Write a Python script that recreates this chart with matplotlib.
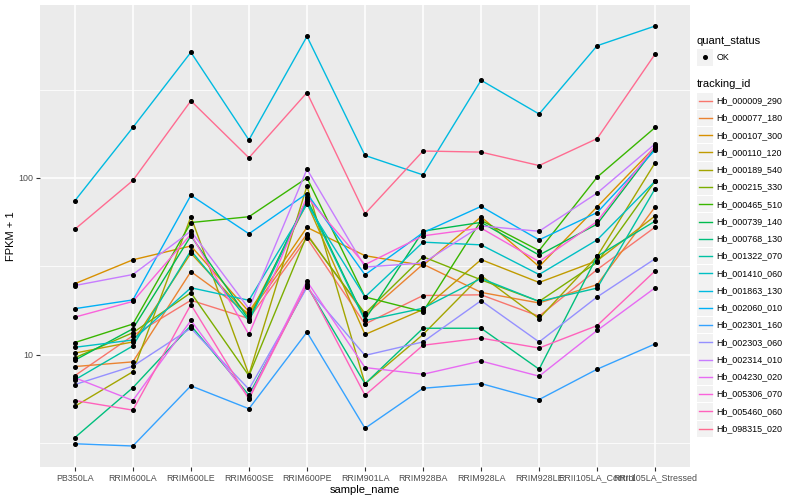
import numpy as np
import matplotlib.pyplot as plt
from matplotlib.lines import Line2D
from matplotlib.patches import Rectangle

plt.rcParams['font.family'] = ['Liberation Sans', 'DejaVu Sans']

samples = ["PB350LA", "RRIM600LA", "RRIM600LE", "RRIM600SE", "RRIM600PE",
           "RRIM901LA", "RRIM928BA", "RRIM928LA", "RRIM928LE",
           "RRII105LA_Control", "RRII105LA_Stressed"]

tracking_ids = ["Hb_000009_290", "Hb_000077_180", "Hb_000107_300", "Hb_000110_120",
                "Hb_000189_540", "Hb_000215_330", "Hb_000465_510", "Hb_000739_140",
                "Hb_000768_130", "Hb_001322_070", "Hb_001410_060", "Hb_001863_130",
                "Hb_002060_010", "Hb_002301_160", "Hb_002303_060", "Hb_002314_010",
                "Hb_004230_020", "Hb_005306_070", "Hb_005460_060", "Hb_098315_020"]

# FPKM + 1 per sample, one list per gene
hb_000009_290 = [7.6, 12.8, 20.3, 16.0, 45.6, 14.9, 21.6, 21.8, 16.5, 30.3, 52.7]
hb_000077_180 = [8.56, 9.1, 29.5, 17.0, 48.1, 16.7, 32.5, 22.5, 19.6, 24.9, 68.6]
hb_000107_300 = [25.2, 34.4, 41.2, 17.5, 52.5, 36.3, 32.0, 60.2, 31.5, 68.6, 150]
hb_000110_120 = [10.2, 11.8, 37.5, 16.5, 72, 13.0, 18.0, 34.5, 25.6, 34.0, 61]
hb_000189_540 = [5.1, 8.0, 60.3, 7.7, 90, 6.84, 13.0, 28.0, 16.0, 36.0, 122]
hb_000215_330 = [9.6, 13.3, 22.4, 7.6, 47.5, 17.1, 35.8, 26.5, 20.0, 33.3, 96]
hb_000465_510 = [11.7, 14.9, 55.9, 60.3, 100, 21.2, 17.5, 57.5, 38.8, 101, 193]
hb_000739_140 = [9.3, 14.0, 47, 15.8, 76, 15.8, 50, 56, 36.6, 54.8, 148]
hb_000768_130 = [3.39, 6.5, 14.6, 5.9, 24.5, 6.84, 14.1, 14.1, 8.27, 36, 57]
hb_001322_070 = [7.2, 11.2, 38.8, 15.5, 74, 15.6, 18.3, 27, 20.0, 23.8, 87]
hb_001410_060 = [11.0, 12.1, 23.9, 20.3, 71, 21.2, 43.3, 41.8, 28.4, 44.6, 96]
hb_001863_130 = [74.2, 193, 514, 164, 632, 134, 104, 357, 230, 560, 724]
hb_002060_010 = [18.2, 20.4, 79.8, 48.3, 81.6, 28.3, 49, 69, 44.6, 63.7, 144]
hb_002301_160 = [3.13, 3.04, 6.66, 4.94, 13.4, 3.83, 6.45, 6.86, 5.57, 8.27, 11.5]
hb_002303_060 = [6.77, 8.6, 14.1, 6.37, 24, 9.9, 11.8, 20.2, 11.8, 21.2, 34.9]
hb_002314_010 = [24.6, 28.4, 50, 18.2, 112, 31.3, 33, 53.5, 49.9, 82.1, 156]
hb_004230_020 = [7.4, 5.5, 15.6, 5.7, 26, 8.45, 7.74, 9.2, 7.55, 13.7, 23.9]
hb_005306_070 = [16.3, 20.0, 48, 13.0, 78, 32.3, 47, 52, 33.6, 56.7, 152]
hb_005460_060 = [5.5, 4.85, 19.2, 5.6, 25, 5.89, 11.3, 12.4, 10.9, 14.6, 29.8]
hb_098315_020 = [51.2, 96.7, 273, 130, 304, 62.7, 142, 140, 117.5, 167, 503]

series = [hb_000009_290, hb_000077_180, hb_000107_300, hb_000110_120, hb_000189_540,
          hb_000215_330, hb_000465_510, hb_000739_140, hb_000768_130, hb_001322_070,
          hb_001410_060, hb_001863_130, hb_002060_010, hb_002301_160, hb_002303_060,
          hb_002314_010, hb_004230_020, hb_005306_070, hb_005460_060, hb_098315_020]

palette = ["#F8766D", "#EA8331", "#D89000", "#C09B00", "#A3A500", "#7CAE00", "#39B600",
           "#00BB4E", "#00BF7D", "#00C1A3", "#00BFC4", "#00BAE0", "#00B0F6", "#35A2FF",
           "#9590FF", "#C77CFF", "#E76BF3", "#FA62DB", "#FF62BC", "#FF6C91"]

W, H = 800, 500
fig = plt.figure(figsize=(8, 5), dpi=100)
fig.patch.set_facecolor("white")
ax = fig.add_axes([40 / W, 1 - 467 / H, 650 / W, 462 / H])
ax.set_facecolor("#EBEBEB")

x = np.arange(len(samples))
for vals, col in zip(series, palette):
    ax.plot(x, vals, color=col, lw=1.0, zorder=3)
    ax.plot(x, vals, "o", color="black", ms=2.6, zorder=4)

ax.set_yscale("log")
allv = np.log10(np.concatenate([np.array(s) for s in series]))
lo, hi = allv.min(), allv.max()
pad = 0.05 * (hi - lo)
ax.set_ylim(10 ** (lo - pad), 10 ** (hi + pad))
ax.set_xlim(-0.6, len(samples) - 0.4)

ax.set_yticks([10, 100])
ax.set_yticklabels(["10", "100"])
ax.set_yticks([10 ** 0.5, 10 ** 1.5, 10 ** 2.5], minor=True)
ax.yaxis.set_minor_formatter(plt.NullFormatter())
ax.set_xticks(x)
ax.set_xticklabels(samples)

ax.grid(True, which="major", color="white", lw=1.1, zorder=0)
ax.grid(True, which="minor", axis="y", color="white", lw=0.55, zorder=0)
ax.set_axisbelow(True)
for s in ax.spines.values():
    s.set_visible(False)
ax.tick_params(which="major", length=2.8, width=0.8, color="#333333",
               labelsize=6.4, labelcolor="#4D4D4D", pad=2)
ax.tick_params(which="minor", length=0)

ax.set_xlabel("sample_name", fontsize=8, labelpad=2)
ax.set_ylabel("FPKM + 1", fontsize=8, labelpad=2)

# legends
def fx(px):
    return px / W

def fy(py):
    return 1 - py / H

fig.text(fx(696.5), fy(40.7), "quant_status", fontsize=8, va="center", ha="left")
fig.add_artist(Rectangle((fx(697), fy(65.5)), 16 / W, 16.5 / H, transform=fig.transFigure,
                         facecolor="#F2F2F2", edgecolor="none"))
fig.add_artist(Line2D([fx(705)], [fy(57.2)], marker="o", ms=2.6, color="black",
                      transform=fig.transFigure))
fig.text(fx(716.5), fy(57.2), "OK", fontsize=6.4, va="center", ha="left")

fig.text(fx(696.5), fy(84.3), "tracking_id", fontsize=8, va="center", ha="left")
step = (428.7 - 100.7) / 19
for i, (tid, col) in enumerate(zip(tracking_ids, palette)):
    yc = 100.7 + i * step
    fig.add_artist(Rectangle((fx(697), fy(yc + 8.2)), 16 / W, 16.4 / H,
                             transform=fig.transFigure, facecolor="#F2F2F2",
                             edgecolor="none"))
    fig.add_artist(Line2D([fx(698.5), fx(711.5)], [fy(yc), fy(yc)], color=col, lw=1.0,
                          transform=fig.transFigure))
    fig.text(fx(716.5), fy(yc), tid, fontsize=6.4, va="center", ha="left")

fig.savefig("out.png", dpi=100)
